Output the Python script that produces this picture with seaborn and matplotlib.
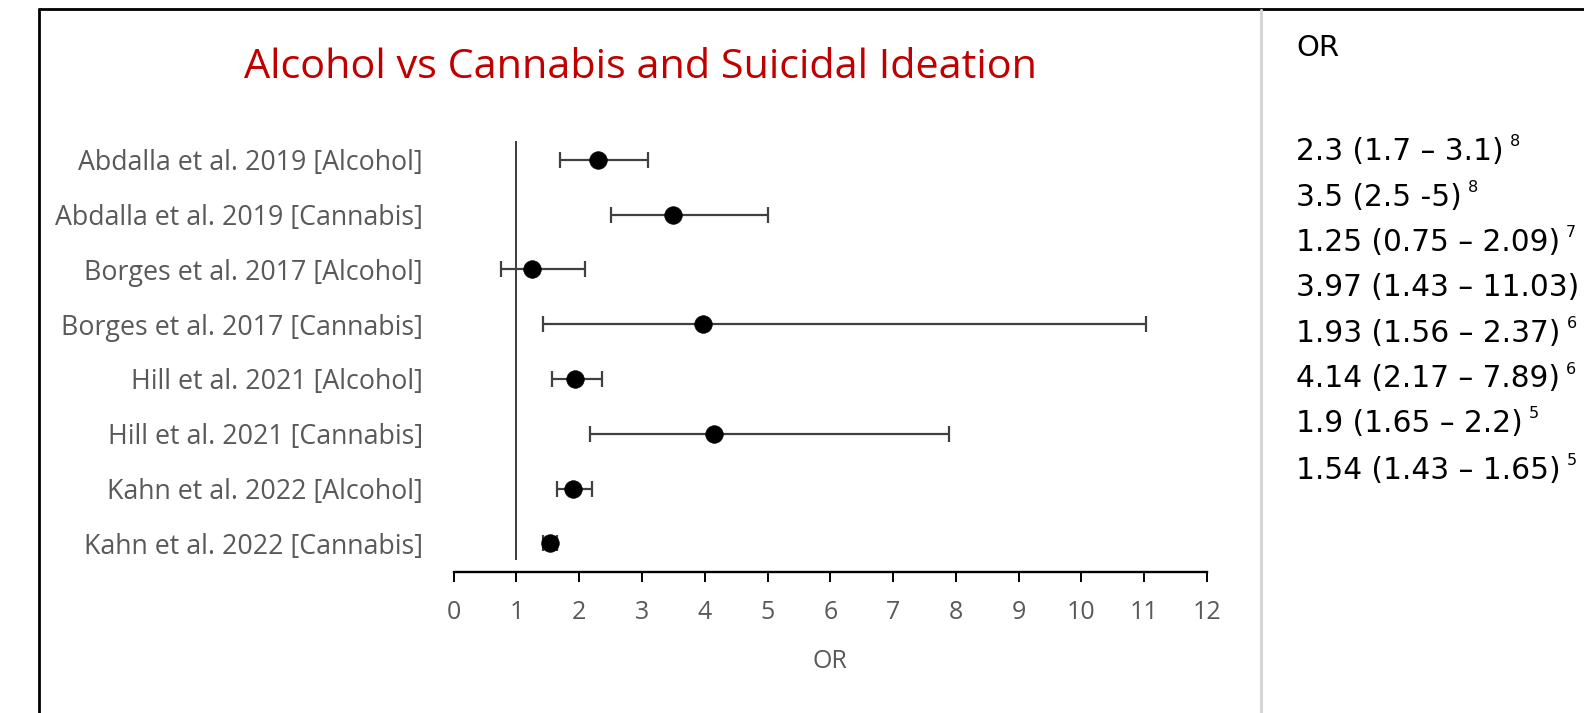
import numpy as np
import pandas as pd
import seaborn as sns
import matplotlib
matplotlib.use("Agg")
import matplotlib.pyplot as plt
from matplotlib.lines import Line2D

# Study rows, top to bottom
studies = [
    "Abdalla et al. 2019 [Alcohol]",
    "Abdalla et al. 2019 [Cannabis]",
    "Borges et al. 2017 [Alcohol]",
    "Borges et al. 2017 [Cannabis]",
    "Hill et al. 2021 [Alcohol]",
    "Hill et al. 2021 [Cannabis]",
    "Kahn et al. 2022 [Alcohol]",
    "Kahn et al. 2022 [Cannabis]",
]
odds_ratio = [2.3, 3.5, 1.25, 3.97, 1.93, 4.14, 1.9, 1.54]
ci_low = [1.7, 2.5, 0.75, 1.43, 1.56, 2.17, 1.65, 1.43]
ci_high = [3.1, 5.0, 2.09, 11.03, 2.37, 7.89, 2.2, 1.65]
or_text = [
    "2.3 (1.7 \u2013 3.1)",
    "3.5 (2.5 -5)",
    "1.25 (0.75 \u2013 2.09)",
    "3.97 (1.43 \u2013 11.03)",
    "1.93 (1.56 \u2013 2.37)",
    "4.14 (2.17 \u2013 7.89)",
    "1.9 (1.65 \u2013 2.2)",
    "1.54 (1.43 \u2013 1.65)",
]
ref_nums = ["8", "8", "7", "", "6", "6", "5", "5"]
x_ticks = list(range(0, 13))

sns.set_theme(style="white")
plt.rcParams["font.family"] = ["Open Sans", "DejaVu Sans"]

W, H = 1584, 713
fig = plt.figure(figsize=(W / 100, H / 100), dpi=100)


def px(x, y):
    return x / W, 1 - y / H


ax_left, ax_right, ax_top, ax_bottom = 453.6, 1207.0, 140.6, 571.8
ax = fig.add_axes([ax_left / W, 1 - ax_bottom / H,
                   (ax_right - ax_left) / W, (ax_bottom - ax_top) / H])
ax.set_facecolor("white")

df = pd.DataFrame({
    "study": studies,
    "OR": odds_ratio,
    "lo": ci_low,
    "hi": ci_high,
})
df["row"] = np.arange(len(df))

# confidence intervals
ax.errorbar(df["OR"], df["row"],
            xerr=[df["OR"] - df["lo"], df["hi"] - df["OR"]],
            fmt="none", ecolor="#404040", elinewidth=1.6,
            capsize=5.5, capthick=1.6, zorder=2)
# point estimates
sns.scatterplot(data=df, x="OR", y="row", s=160, color="black",
                edgecolor="black", linewidth=0.5, ax=ax, zorder=3,
                legend=False)

# line of no effect
ax.vlines(1, -0.35, 7.3, color="#1a1a1a", lw=1.2, zorder=1)

ax.set_xlim(0, 12)
ax.set_ylim(7.52, -0.35)
ax.set_xticks(x_ticks)
ax.set_xticklabels([str(t) for t in x_ticks])
ax.set_yticks(df["row"])
ax.set_yticklabels(studies)

for side in ["top", "right", "left"]:
    ax.spines[side].set_visible(False)
ax.spines["bottom"].set_color("black")
ax.spines["bottom"].set_linewidth(1.7)

ax.tick_params(axis="x", direction="out", length=7.5, width=1.4,
               color="black", labelcolor="#595959", labelsize=18, pad=13,
               bottom=True)
ax.tick_params(axis="y", length=0, labelcolor="#595959", labelsize=19.3,
               pad=22)
ax.set_xlabel("OR", color="#595959", fontsize=18, labelpad=17)
ax.set_ylabel("")

fig.text(*px(641, 68), "Alcohol vs Cannabis and Suicidal Ideation",
         color="#C00000", fontsize=29.8, ha="center", va="center")

# frame edges and panel divider
fig.add_artist(Line2D([38.5 / W, 1], [1 - 9 / H, 1 - 9 / H],
                      color="black", lw=2.0, transform=fig.transFigure))
fig.add_artist(Line2D([38.5 / W, 38.5 / W], [0, 1 - 9 / H],
                      color="black", lw=2.0, transform=fig.transFigure))
fig.add_artist(Line2D([1261 / W, 1261 / W], [0, 1 - 10 / H],
                      color="#d6d6d6", lw=2.2, transform=fig.transFigure))

# odds ratio column
panel_font = ["DejaVu Sans"]
fig.text(*px(1296, 48), "OR", color="black", fontsize=21,
         ha="left", va="center", family=panel_font)
row_y = [151.5, 197, 242.4, 288, 333, 379, 424, 470.7]
texts = []
for y, s in zip(row_y, or_text):
    texts.append(fig.text(*px(1296, y), s, color="black", fontsize=21.3,
                          ha="left", va="center", family=panel_font))

fig.canvas.draw()
renderer = fig.canvas.get_renderer()
for t, ref, y in zip(texts, ref_nums, row_y):
    if not ref:
        continue
    bb = t.get_window_extent(renderer)
    fig.text((bb.x1 + 6) / W, 1 - (y - 10) / H, ref, color="black",
             fontsize=11.5, ha="left", va="center", family=panel_font)

fig.savefig("out.png", dpi=100, facecolor="white")
